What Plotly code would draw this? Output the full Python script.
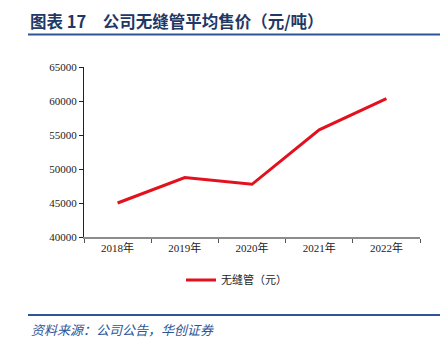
import plotly.graph_objects as go

years = ["2018年", "2019年", "2020年", "2021年", "2022年"]
prices = [45000, 48750, 47750, 55750, 60350]
series_name = "无缝管（元）"
title_text = "图表 17　公司无缝管平均售价（元/吨）"
source_text = "资料来源：公司公告，华创证券"

W, H = 447, 346
L, R, T, B = 84, 27, 67, 109
pw, ph = W - L - R, H - T - B

def px_x(px):
    return (px - L) / pw

def px_y(py):
    return (H - B - py) / ph

serif = '"Liberation Serif", "Times New Roman", "Noto Sans CJK SC", serif'
cjk = '"Noto Sans CJK SC", sans-serif'

fig = go.Figure()
fig.add_trace(go.Scatter(
    x=years, y=prices, mode="lines", name=series_name,
    line=dict(color="#E3101E", width=3),
))

fig.update_layout(
    width=W, height=H,
    margin=dict(l=L, r=R, t=T, b=B),
    paper_bgcolor="white", plot_bgcolor="white",
    showlegend=True,
    legend=dict(orientation="h", x=px_x(181), xanchor="left",
                y=px_y(280), yanchor="middle",
                font=dict(family=cjk, size=11, color="#222"),
                bgcolor="rgba(0,0,0,0)"),
    xaxis=dict(type="category", range=[-0.5, 4.5], showgrid=False,
               showline=True, linecolor="#8C8C8C", linewidth=2,
               ticks="outside", ticklen=4, tickcolor="#555", tickson="boundaries",
               tickfont=dict(family=serif, size=11, color="#222"), zeroline=False),
    yaxis=dict(range=[40000, 65000], dtick=5000, showgrid=False,
               showline=True, linecolor="#222", linewidth=1,
               ticks="outside", ticklen=4, tickcolor="#222",
               tickfont=dict(family=serif, size=11, color="#222"),
               zeroline=False, tickformat="d"),
    shapes=[
        dict(type="line", xref="paper", yref="paper",
             x0=px_x(28), x1=px_x(440), y0=px_y(34.5), y1=px_y(34.5),
             line=dict(color="#2E5596", width=2)),
        dict(type="line", xref="paper", yref="paper",
             x0=px_x(28), x1=px_x(440), y0=px_y(315), y1=px_y(315),
             line=dict(color="#2E5596", width=2)),
    ],
    annotations=[
        dict(text="<b>" + title_text + "</b>", xref="paper", yref="paper",
             x=px_x(28), y=px_y(21), xanchor="left", yanchor="middle",
             showarrow=False, font=dict(family=cjk, size=16.5, color="#1F3864")),
        dict(text="<i>" + source_text + "</i>", xref="paper", yref="paper",
             x=px_x(29), y=px_y(329), xanchor="left", yanchor="middle",
             showarrow=False, font=dict(family=cjk, size=13, color="#2E5596")),
    ],
)

fig.write_html("out.html")
